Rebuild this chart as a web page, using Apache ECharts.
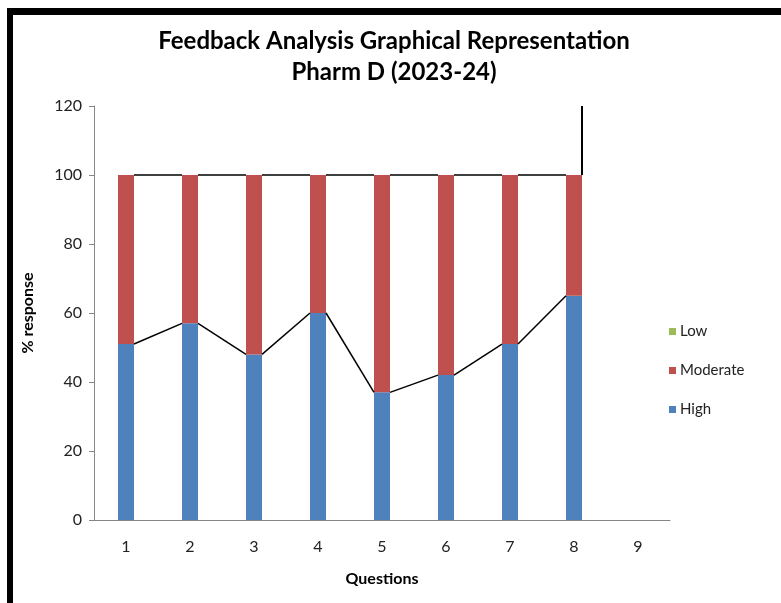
<!DOCTYPE html>
<html>
<head>
<meta charset="utf-8">
<script src="https://cdn.jsdelivr.net/npm/echarts@6/dist/echarts.min.js"></script>
<style>
  html, body { margin: 0; padding: 0; background: #fff; }
  #chart { width: 781px; height: 603px; }
</style>
</head>
<body>
<div id="chart"></div>
<script>
// data
const questions = ["1", "2", "3", "4", "5", "6", "7", "8", "9"];
const high = [51, 57, 48, 60, 37, 42, 51, 65, "-"];
const moderate = [49, 43, 52, 40, 63, 58, 49, 35, "-"];
const low = [0, 0, 0, 0, 0, 0, 0, 0, "-"];
const yTicks = { min: 0, max: 120, step: 20 };
// odd vertical series-line stub seen on the last bar
const tailFrom = 100;
const tailTo = 120;

const barW = 16;
const font = "Lato, 'Open Sans', sans-serif";

// series lines (excel style): right edge of bar i -> left edge of bar i+1
const totals = high.map((h, i) => h === "-" ? "-" : h + moderate[i] + low[i]);
const segs = [];
[high, totals].forEach(arr => {
  for (let i = 0; i < arr.length - 1; i++) {
    if (arr[i] === "-" || arr[i + 1] === "-") continue;
    segs.push([i, arr[i], arr[i + 1], 0]);
  }
});
segs.push([7, tailFrom, tailTo, 1]);

const chart = echarts.init(document.getElementById("chart"));

chart.setOption({
  animation: false,
  textStyle: { fontFamily: font },
  graphic: [
    { type: "rect", shape: { x: 7, y: 8, width: 774, height: 7 }, style: { fill: "#000" } },
    { type: "rect", shape: { x: 7, y: 8, width: 6, height: 595 }, style: { fill: "#000" } }
  ],
  title: {
    text: "Feedback Analysis Graphical Representation\nPharm D (2023-24)",
    left: 389,
    textAlign: "center",
    top: 21,
    textStyle: { fontFamily: font, fontSize: 24, fontWeight: "bold", color: "#000", lineHeight: 31 }
  },
  legend: {
    orient: "vertical",
    left: 664,
    top: 319,
    itemGap: 24,
    itemWidth: 7,
    itemHeight: 7,
    icon: "rect",
    data: ["Low", "Moderate", "High"],
    textStyle: { fontFamily: font, fontSize: 15, color: "#222", padding: [0, 0, 0, -1] }
  },
  grid: { left: 94, right: 111, top: 106, bottom: 83 },
  xAxis: {
    type: "category",
    data: questions,
    name: "Questions",
    nameLocation: "middle",
    nameGap: 51,
    nameTextStyle: { fontFamily: font, fontSize: 16, fontWeight: "bold", color: "#000" },
    axisLine: { lineStyle: { color: "#868686" } },
    axisTick: { show: false },
    axisLabel: { fontSize: 16, color: "#222", margin: 19 }
  },
  yAxis: {
    type: "value",
    min: yTicks.min,
    max: yTicks.max,
    interval: yTicks.step,
    name: "% response",
    nameLocation: "middle",
    nameGap: 58,
    nameTextStyle: { fontFamily: font, fontSize: 16, fontWeight: "bold", color: "#000" },
    axisLine: { show: true, lineStyle: { color: "#868686" } },
    axisTick: { show: true, length: 5, lineStyle: { color: "#868686" } },
    splitLine: { show: false },
    axisLabel: { fontSize: 16, color: "#222", margin: 12 }
  },
  series: [
    { name: "High", type: "bar", stack: "s", barWidth: barW, data: high, itemStyle: { color: "#4F81BD" } },
    { name: "Moderate", type: "bar", stack: "s", barWidth: barW, data: moderate, itemStyle: { color: "#C0504D" } },
    { name: "Low", type: "bar", stack: "s", barWidth: barW, data: low, itemStyle: { color: "#9BBB59" } },
    {
      type: "custom",
      silent: true,
      z: 5,
      encode: { x: 0, y: [1, 2] },
      data: segs,
      renderItem: function (params, api) {
        const i = api.value(0);
        const a = api.coord([i, api.value(1)]);
        const tail = api.value(3) === 1;
        const b = tail ? api.coord([i, api.value(2)]) : api.coord([i + 1, api.value(2)]);
        const h = barW / 2;
        const x1 = a[0] + h;
        const x2 = tail ? a[0] + h : b[0] - h;
        return {
          type: "line",
          shape: { x1: x1, y1: a[1], x2: x2, y2: b[1] },
          style: { stroke: "#000", lineWidth: tail ? 2 : 1.5 }
        };
      }
    }
  ]
});
</script>
</body>
</html>
